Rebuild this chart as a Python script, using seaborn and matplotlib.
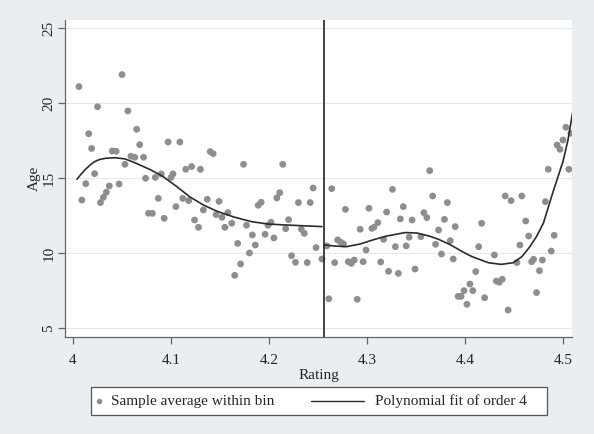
import numpy as np
import pandas as pd
import matplotlib
matplotlib.use("Agg")
import matplotlib.pyplot as plt
import seaborn as sns
from matplotlib.lines import Line2D
from matplotlib.patches import Rectangle

# ---------------- data ----------------
left_x = [4.006, 4.009, 4.013, 4.016, 4.019, 4.022, 4.025, 4.028, 4.031, 4.034,
          4.037, 4.040, 4.044, 4.047, 4.050, 4.053, 4.056, 4.059, 4.063, 4.065,
          4.068, 4.072, 4.074, 4.077, 4.081, 4.084, 4.087, 4.090, 4.093, 4.097,
          4.100, 4.102, 4.105, 4.109, 4.112, 4.115, 4.118, 4.121, 4.124, 4.128,
          4.130, 4.133, 4.137, 4.140, 4.143, 4.146, 4.149, 4.152, 4.155, 4.158,
          4.162, 4.165, 4.168, 4.171, 4.174, 4.177, 4.180, 4.183, 4.186, 4.189,
          4.192, 4.196, 4.199, 4.202, 4.205, 4.208, 4.211, 4.214, 4.217, 4.220,
          4.223, 4.227, 4.230, 4.233, 4.236, 4.239, 4.242, 4.245, 4.248, 4.254]
left_y = [21.09, 13.53, 14.62, 17.95, 16.97, 15.29, 19.75, 13.36, 13.71, 14.05,
          14.47, 16.80, 16.78, 14.60, 21.89, 15.91, 19.47, 16.45, 16.38, 18.25,
          17.22, 16.38, 14.98, 12.65, 12.64, 15.04, 13.64, 15.27, 12.31, 17.40,
          15.04, 15.27, 13.09, 17.40, 13.64, 15.58, 13.49, 15.76, 12.20, 11.71,
          15.58, 12.87, 13.58, 16.76, 16.62, 12.56, 13.44, 12.38, 11.71, 12.69,
          11.98, 8.51, 10.64, 9.27, 15.91, 11.85, 10.00, 11.20, 10.53, 13.18,
          13.38, 11.25, 11.85, 12.05, 11.00, 13.67, 14.02, 15.91, 11.62, 12.22,
          9.82, 9.38, 13.36, 11.58, 11.31, 9.36, 13.36, 14.33, 10.36, 9.60]

right_x = [4.259, 4.261, 4.264, 4.267, 4.270, 4.273, 4.276, 4.278, 4.281, 4.284,
           4.287, 4.290, 4.293, 4.296, 4.299, 4.302, 4.305, 4.307, 4.311, 4.314,
           4.317, 4.320, 4.322, 4.326, 4.329, 4.332, 4.334, 4.337, 4.340, 4.343,
           4.346, 4.349, 4.355, 4.358, 4.361, 4.364, 4.367, 4.370, 4.373, 4.376,
           4.379, 4.382, 4.385, 4.388, 4.390, 4.393, 4.396, 4.399, 4.402, 4.405,
           4.408, 4.411, 4.414, 4.417, 4.420, 4.430, 4.432, 4.435, 4.438, 4.441,
           4.444, 4.447, 4.453, 4.456, 4.458, 4.462, 4.465, 4.468, 4.470, 4.473,
           4.476, 4.479, 4.482, 4.485, 4.488, 4.491, 4.494, 4.497, 4.500, 4.503,
           4.506, 4.508]
right_y = [10.47, 6.95, 14.29, 9.36, 10.87, 10.73, 10.60, 12.91, 9.42, 9.31,
           9.53, 6.91, 11.58, 9.42, 10.20, 12.98, 11.64, 11.71, 12.02, 9.40,
           10.91, 12.73, 8.78, 14.24, 10.42, 8.64, 12.27, 13.09, 10.47, 11.05,
           12.20, 8.93, 11.09, 12.69, 12.36, 15.49, 13.80, 10.58, 11.53, 9.93,
           12.24, 13.36, 10.82, 9.60, 11.76, 7.11, 7.11, 7.49, 6.58, 7.93,
           7.49, 8.76, 10.42, 11.98, 7.02, 9.87, 8.13, 8.05, 8.25, 13.80,
           6.20, 13.49, 9.36, 10.53, 13.80, 12.13, 11.13, 9.42, 9.58, 7.36,
           8.82, 9.53, 13.42, 15.58, 10.13, 11.18, 17.20, 16.91, 17.53, 18.38,
           15.58, 17.98]

# fitted 4th-order polynomial curves
fit_left_x = [4.004, 4.008, 4.012, 4.017, 4.022, 4.027, 4.033, 4.043, 4.053, 4.063,
              4.079, 4.092, 4.106, 4.119, 4.133, 4.147, 4.164, 4.182, 4.199, 4.216,
              4.233, 4.254]
fit_left_y = [14.91, 15.24, 15.53, 15.84, 16.09, 16.23, 16.31, 16.35, 16.27, 16.02,
              15.55, 15.09, 14.42, 13.75, 13.20, 12.78, 12.40, 12.09, 11.93, 11.87,
              11.82, 11.76]
fit_right_x = [4.257, 4.266, 4.279, 4.293, 4.306, 4.320, 4.339, 4.351, 4.364, 4.373,
               4.385, 4.397, 4.407, 4.424, 4.437, 4.449, 4.458, 4.466, 4.473, 4.480,
               4.489, 4.496, 4.500, 4.505, 4.510]
fit_right_y = [10.53, 10.47, 10.42, 10.60, 10.87, 11.13, 11.36, 11.33, 11.12, 10.91,
               10.55, 10.10, 9.76, 9.35, 9.24, 9.35, 9.75, 10.40, 11.10, 11.98,
               13.90, 15.30, 16.10, 17.50, 19.42]

cutoff = 4.256
x_ticks = [4.0, 4.1, 4.2, 4.3, 4.4, 4.5]
x_tick_labels = ["4", "4.1", "4.2", "4.3", "4.4", "4.5"]
y_ticks = [5, 10, 15, 20, 25]
y_tick_labels = ["5", "10", "15", "20", "25"]
legend_labels = ["Sample average within bin", "Polynomial fit of order 4"]

df = pd.DataFrame({"Rating": left_x + right_x, "Age": left_y + right_y})
fit_df = pd.DataFrame({
    "Rating": fit_left_x + fit_right_x,
    "Age": fit_left_y + fit_right_y,
    "side": ["left"] * len(fit_left_x) + ["right"] * len(fit_right_x),
})

# ---------------- style ----------------
sns.set_style("white")
plt.rcParams["font.family"] = ["Liberation Serif", "DejaVu Serif"]

W, H = 594, 434
bg = "#e8eef1"
fig = plt.figure(figsize=(W / 100, H / 100), dpi=100, facecolor=bg)
ax = fig.add_axes([65 / W, 1 - 337 / H, (572 - 65) / W, (337 - 20) / H])
ax.set_facecolor("white")

pt_color = "#8e8e8e"
line_color = "#2b2b2b"

sns.scatterplot(data=df, x="Rating", y="Age", ax=ax, color=pt_color,
                s=24, edgecolor="none", linewidth=0, legend=False, zorder=3)
sns.lineplot(data=fit_df, x="Rating", y="Age", units="side", estimator=None,
             sort=True, ax=ax, color=line_color, lw=1.2, zorder=4, legend=False)

ax.axvline(cutoff, color="#222222", lw=1.2, zorder=5)

ax.set_xlim(3.9918, 4.5092)
ax.set_ylim(4.4, 25.53)
ax.set_xticks(x_ticks)
ax.set_xticklabels(x_tick_labels, fontsize=11)
ax.set_yticks(y_ticks)
ax.set_yticklabels(y_tick_labels, fontsize=11, rotation=90, va="center")
ax.set_xlabel("Rating", fontsize=11, labelpad=1)
ax.set_ylabel("Age", fontsize=11, labelpad=1)

ax.grid(axis="y", color="#e5e9ec", lw=0.8)
ax.set_axisbelow(True)
for s in ["top", "right"]:
    ax.spines[s].set_visible(False)
for s in ["left", "bottom"]:
    ax.spines[s].set_color("#666666")
    ax.spines[s].set_linewidth(0.9)
ax.tick_params(axis="both", direction="out", length=5, width=0.9,
               color="#666666", bottom=True, left=True)
ax.tick_params(axis="x", pad=7.5)
ax.tick_params(axis="y", pad=2)

# ---------------- legend box below the plot (Stata style) ----------------
def fx(px):
    return px / W

def fy(py):
    return 1 - py / H

fig.add_artist(Rectangle((fx(91), fy(415)), fx(547) - fx(91), fy(387) - fy(415),
                         transform=fig.transFigure, facecolor="white",
                         edgecolor="#555555", lw=0.9))
fig.add_artist(Line2D([fx(99)], [fy(401)], transform=fig.transFigure, marker="o",
                      markersize=4, markerfacecolor=pt_color,
                      markeredgecolor="none", linestyle="none"))
fig.text(fx(111), fy(401), legend_labels[0], fontsize=11, va="center", ha="left")
fig.add_artist(Line2D([fx(311), fx(364)], [fy(401), fy(401)],
                      transform=fig.transFigure, color=line_color, lw=1.0))
fig.text(fx(375), fy(401), legend_labels[1], fontsize=11, va="center", ha="left")

fig.savefig("out.png", dpi=100, facecolor=bg)
